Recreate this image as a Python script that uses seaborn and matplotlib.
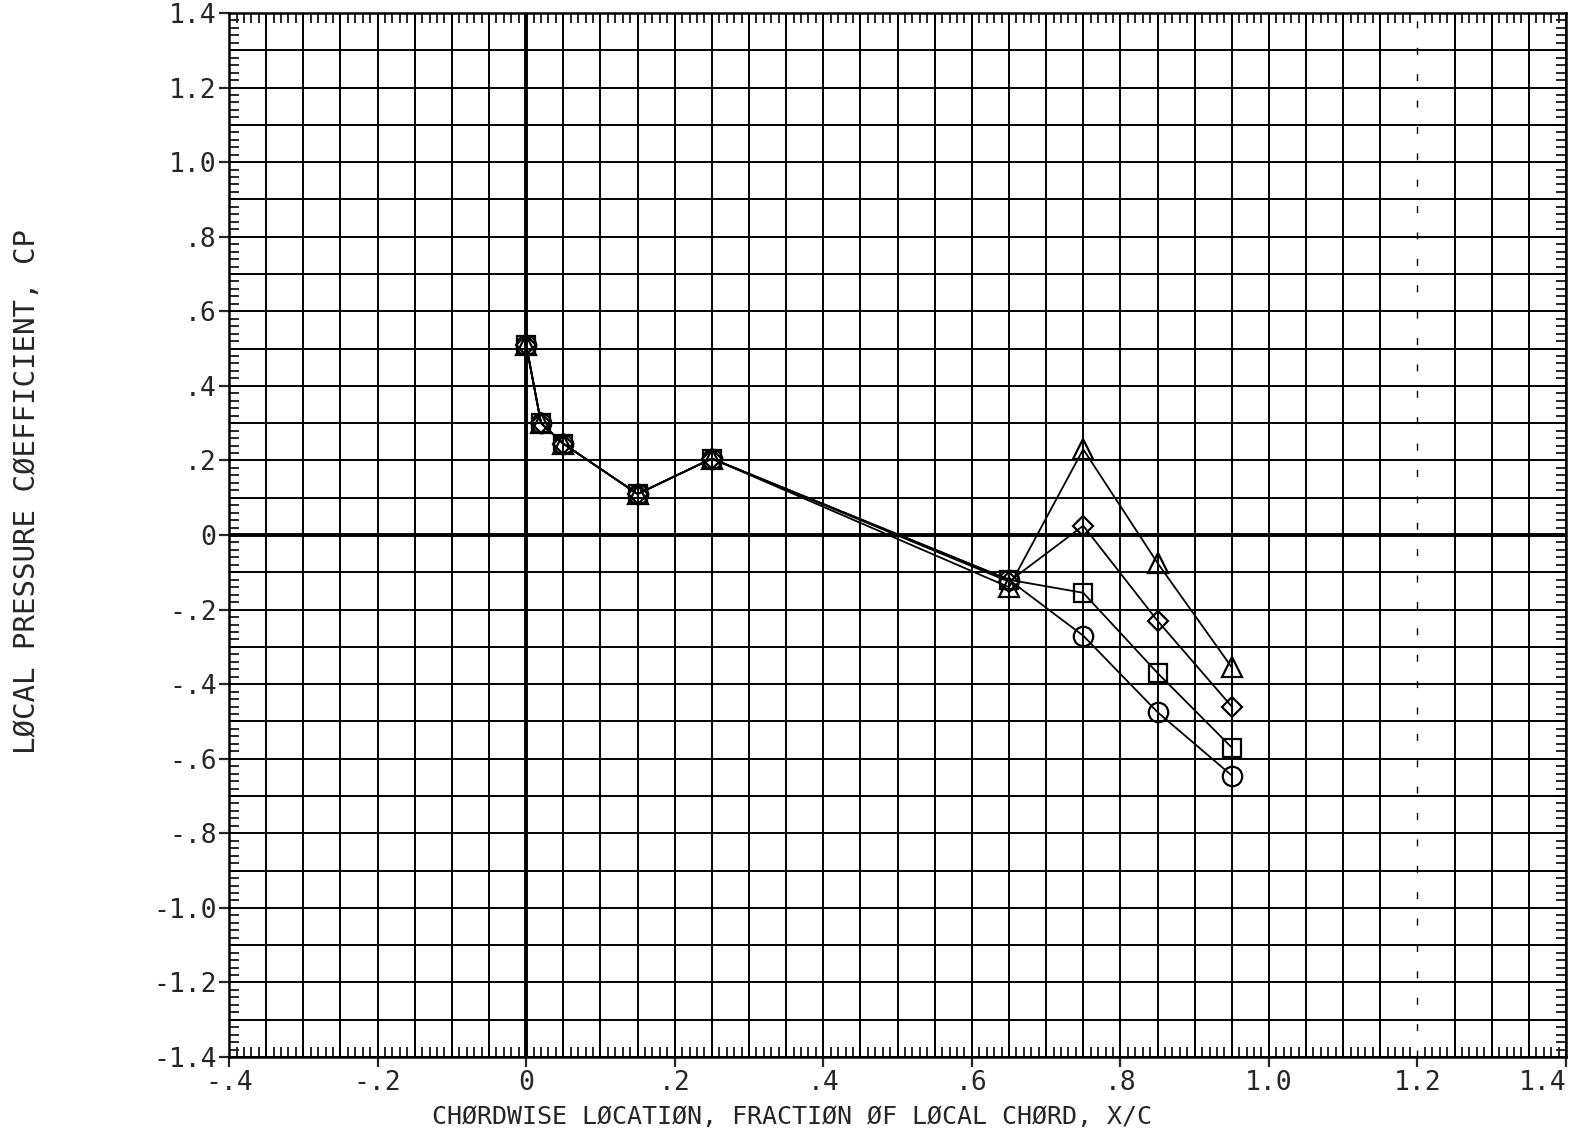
import numpy as np
import pandas as pd
import matplotlib
matplotlib.use("Agg")
import matplotlib.pyplot as plt
import seaborn as sns
from matplotlib.ticker import MultipleLocator, FixedLocator

# chordwise stations and local Cp for the four cases
x_c = [0.0, 0.02, 0.05, 0.15, 0.25, 0.65, 0.75, 0.85, 0.95]
cp_circle = [0.51, 0.30, 0.245, 0.11, 0.205, -0.12, -0.27, -0.475, -0.645]
cp_square = [0.51, 0.30, 0.245, 0.11, 0.205, -0.12, -0.155, -0.37, -0.57]
cp_diamond = [0.51, 0.30, 0.245, 0.11, 0.205, -0.125, 0.025, -0.23, -0.46]
cp_triangle = [0.51, 0.30, 0.245, 0.11, 0.205, -0.14, 0.23, -0.075, -0.355]

xticks = [-0.4, -0.2, 0.0, 0.2, 0.4, 0.6, 0.8, 1.0, 1.2, 1.4]
xtick_labels = ["-.4", "-.2", "0", ".2", ".4", ".6", ".8", "1.0", "1.2", "1.4"]
yticks = [1.4, 1.2, 1.0, 0.8, 0.6, 0.4, 0.2, 0.0, -0.2, -0.4, -0.6, -0.8, -1.0, -1.2, -1.4]
ytick_labels = ["1.4", "1.2", "1.0", ".8", ".6", ".4", ".2", "0", "-.2", "-.4",
                "-.6", "-.8", "-1.0", "-1.2", "-1.4"]

series = {"circle": (cp_circle, "o", 14),
          "square": (cp_square, "s", 13),
          "diamond": (cp_diamond, "D", 10),
          "triangle": (cp_triangle, "^", 14)}

sns.set_style("white")
plt.rcParams["font.family"] = ["DejaVu Sans Mono"]

fig = plt.figure(figsize=(15.82, 11.28), dpi=100)
ax = fig.add_axes([0.1448, 0.0629, 0.9899 - 0.1448, 0.9885 - 0.0629])

# plotter style grid
for gx in np.arange(-0.4, 1.4001, 0.05):
    if abs(gx - 1.2) < 1e-6:
        ax.axvline(gx, color="k", lw=1.0, ls=(0, (5, 14)), zorder=1)
    elif abs(gx) < 1e-6:
        ax.axvline(gx, color="k", lw=2.8, zorder=1)
    else:
        ax.axvline(gx, color="k", lw=1.4, zorder=1)
for gy in np.arange(-1.4, 1.4001, 0.1):
    if abs(gy) < 1e-6:
        ax.axhline(gy, color="k", lw=2.8, zorder=1)
    else:
        ax.axhline(gy, color="k", lw=1.4, zorder=1)

for name, (cp, mk, ms) in series.items():
    df = pd.DataFrame({"x": x_c, "cp": cp})
    sns.lineplot(data=df, x="x", y="cp", ax=ax, color="k", lw=1.3,
                 marker=mk, markersize=ms, markerfacecolor="none",
                 markeredgecolor="k", markeredgewidth=1.6, sort=False, zorder=3)

ax.set_xlim(-0.4, 1.4)
ax.set_ylim(-1.4, 1.4)
ax.set_xlabel("")
ax.set_ylabel("")

ax.xaxis.set_major_locator(FixedLocator(xticks))
ax.set_xticklabels(xtick_labels, fontsize=19)
ax.yaxis.set_major_locator(FixedLocator(yticks))
ax.set_yticklabels(ytick_labels, fontsize=19)
ax.get_xticklabels()[-1].set_horizontalalignment("right")
ax.xaxis.set_minor_locator(MultipleLocator(0.01))
ax.yaxis.set_minor_locator(MultipleLocator(0.02))
ax.tick_params(which="major", direction="out", length=7, width=1.6, pad=2,
               bottom=True, left=True, top=False, right=False)
ax.tick_params(which="minor", direction="in", length=7, width=1.4,
               bottom=True, left=True, top=True, right=True)

for sp in ax.spines.values():
    sp.set_visible(True)
    sp.set_color("k")
    sp.set_linewidth(1.8)

fig.text(0.5006, 0.0095, "CHØRDWISE LØCATIØN, FRACTIØN ØF LØCAL CHØRD, X/C",
         ha="center", va="center", fontsize=18)
fig.text(0.017, 0.564, "LØCAL PRESSURE CØEFFICIENT, CP",
         ha="center", va="center", rotation=90, fontsize=21)

fig.savefig("out.png", dpi=100, facecolor="white")
